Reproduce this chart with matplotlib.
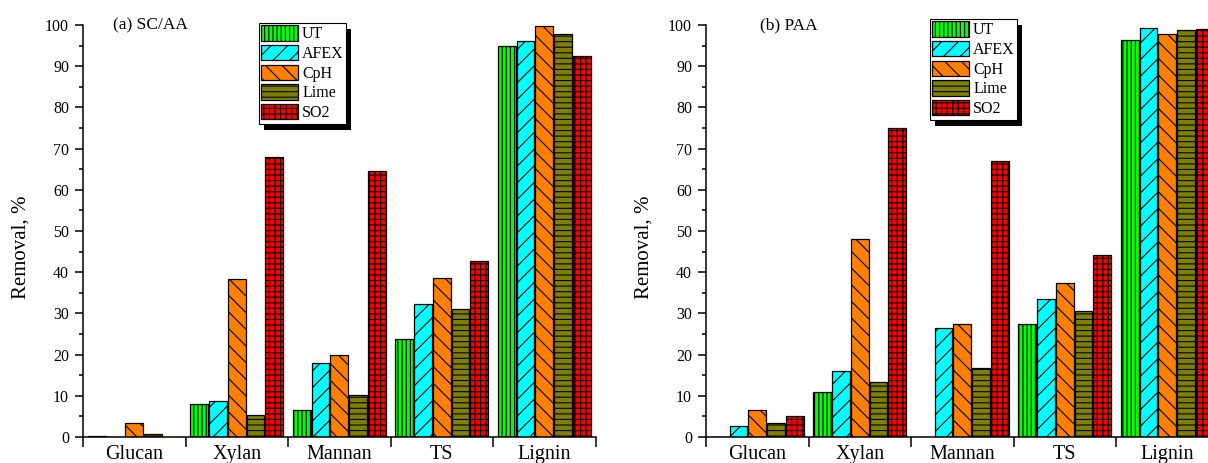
import matplotlib
matplotlib.use("Agg")
import matplotlib.pyplot as plt
import numpy as np
from matplotlib.patches import Rectangle
from matplotlib.transforms import IdentityTransform

plt.rcParams['font.family'] = ['Liberation Serif', 'DejaVu Serif']
plt.rcParams['hatch.linewidth'] = 0.8

categories = ["Glucan", "Xylan", "Mannan", "TS", "Lignin"]
treatments = ["UT", "AFEX", "CpH", "Lime", "SO2"]

# removal (%) per treatment, one value per category
sc_aa = {
    "UT":   [0.2, 8.0, 6.5, 23.8, 94.8],
    "AFEX": [0.0, 8.7, 17.9, 32.3, 96.2],
    "CpH":  [3.5, 38.3, 19.9, 38.6, 99.7],
    "Lime": [0.7, 5.3, 10.3, 31.0, 97.9],
    "SO2":  [0.0, 68.0, 64.5, 42.8, 92.5],
}
paa = {
    "UT":   [0.0, 11.0, 0.0, 27.4, 96.4],
    "AFEX": [2.7, 16.0, 26.4, 33.5, 99.3],
    "CpH":  [6.6, 48.0, 27.5, 37.5, 97.8],
    "Lime": [3.4, 13.4, 16.8, 30.6, 98.7],
    "SO2":  [5.1, 75.0, 67.0, 44.1, 99.0],
}

colors = {"UT": "#00ff00", "AFEX": "#00ffff", "CpH": "#ff8000",
          "Lime": "#808000", "SO2": "#ff0000"}
hatches = {"UT": "||||", "AFEX": "//", "CpH": "\\\\",
           "Lime": "---", "SO2": "+++"}

W, H = 1208, 463
fig = plt.figure(figsize=(W / 100, H / 100), dpi=100)


def draw_panel(left_px, data, title, title_dx, legend_xy):
    ax = fig.add_axes([left_px / W, (H - 437) / H, 512.5 / W, 412 / H])
    x = np.arange(len(categories))
    step, width = 0.183, 0.175
    for i, t in enumerate(treatments):
        ax.bar(x + (i - 2) * step, data[t], width, color=colors[t],
               hatch=hatches[t], edgecolor="black", linewidth=0.9, label=t)

    ax.set_xlim(-0.5, len(categories) - 0.5)
    ax.set_ylim(0, 100)
    for s in ("top", "right"):
        ax.spines[s].set_visible(False)
    for s in ("left", "bottom"):
        ax.spines[s].set_linewidth(1.1)
        ax.spines[s].set_clip_on(False)

    ax.set_yticks(np.arange(0, 101, 10))
    ax.set_yticks(np.arange(5, 100, 10), minor=True)
    ax.tick_params(axis="y", which="major", direction="out", length=5.5,
                   width=1.1, labelsize=11.5, pad=4.5)
    ax.tick_params(axis="y", which="minor", direction="out", length=3, width=1.1)

    ax.set_xticks(np.arange(-0.5, len(categories), 1.0))
    ax.set_xticklabels([])
    ax.set_xticks(x, minor=True)
    ax.set_xticklabels(categories, minor=True)
    ax.tick_params(axis="x", which="major", direction="out", length=7, width=1.1)
    ax.tick_params(axis="x", which="minor", length=0, labelsize=14.5, pad=5.5)

    ax.set_ylabel("Removal, %", fontsize=15, va="center")
    ax.yaxis.set_label_coords(-62 / 512.5, 0.461)

    ax.text(title_dx / 512.5, 1.0, title, transform=ax.transAxes,
            fontsize=12.5, ha="left", va="center")

    leg = ax.legend(loc="upper left", bbox_to_anchor=legend_xy,
                    bbox_transform=fig.transFigure, borderaxespad=0,
                    fontsize=11.5, handlelength=2.3, handleheight=1.1,
                    labelspacing=0.16, handletextpad=0.25, borderpad=0.15,
                    fancybox=False, framealpha=1, edgecolor="black")
    leg.get_frame().set_linewidth(0.8)
    leg.set_zorder(6)
    return ax, leg


panels = [
    draw_panel(83, sc_aa, "(a) SC/AA", 30, (259 / W, 1 - 23 / H)),
    draw_panel(706, paa, "(b) PAA", 54, (930 / W, 1 - 19 / H)),
]

# solid black drop shadow behind each legend box
fig.canvas.draw()
for ax, leg in panels:
    bb = leg.get_window_extent()
    shadow = Rectangle((bb.x0 + 5, bb.y0 - 6), bb.width, bb.height,
                       transform=IdentityTransform(), facecolor="black",
                       edgecolor="none", zorder=5.5, clip_on=False)
    ax.add_artist(shadow)

fig.savefig("out.png", dpi=100)
